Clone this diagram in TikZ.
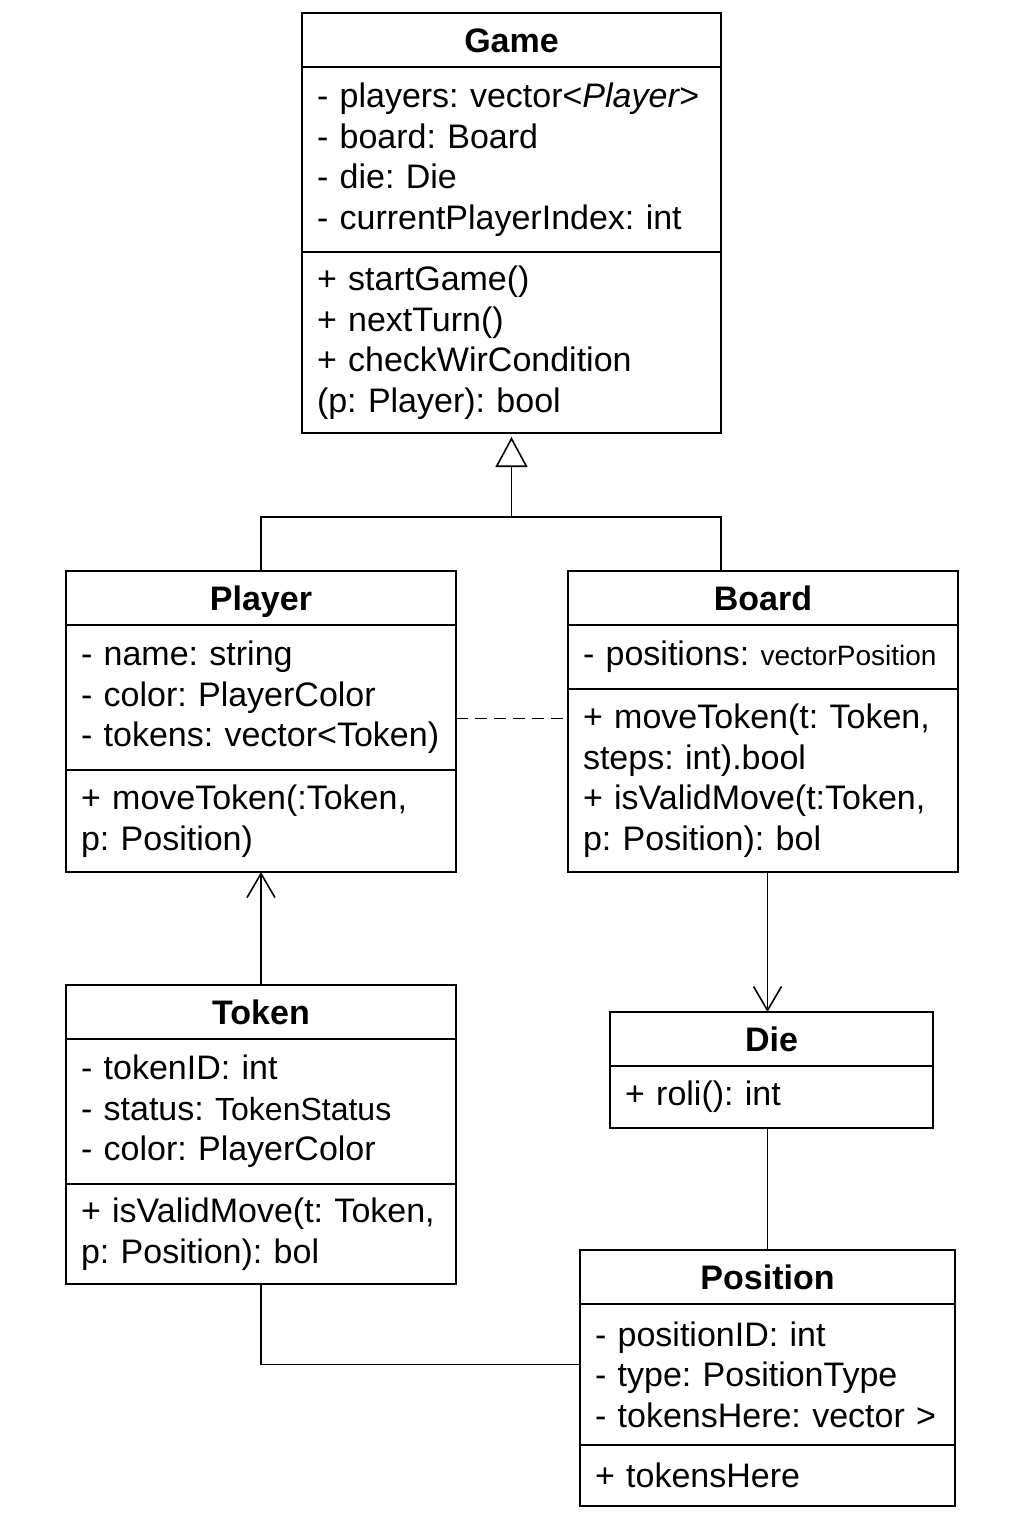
\documentclass[tikz,border=0pt]{standalone}
\usepackage{fontspec}
\setmainfont{Liberation Sans}
\usetikzlibrary{arrows.meta, positioning}
\frenchspacing
\hyphenpenalty=10000

\tikzset{
  umlbox/.style={draw, line width=1.6pt, inner xsep=15pt, inner ysep=0pt, outer sep=0pt, text width=#1},
  umltitle/.style={umlbox=#1, minimum height=54pt, align=center, anchor=north west,
    text height=26pt, text depth=1pt, font=\fontsize{34}{40.5}\selectfont\bfseries},
  umlpart/.style={umlbox=#1, align=left, execute at begin node=\vphantom{A},
    font=\fontsize{34}{40.5}\selectfont},
  link/.style={line width=1.6pt},
  openhead/.style={-{Straight Barb[length=24pt, width=28pt]}},
}

\begin{document}
\begin{tikzpicture}[x=1pt, y=-1pt]
  \fill[white] (0,0) rectangle (1024,1536);
  \useasboundingbox (0,0) rectangle (1024,1536);

  % Game
  \node[umltitle=389pt] (game) at (302,13) {Game};
  \node[umlpart=389pt, minimum height=185pt, below=0pt of game] (gameattr)
    {- players: vector<\textit{Player>}\\- board: Board\\- die: Die\\- currentPlayerIndex: int};
  \node[umlpart=389pt, minimum height=181pt, below=0pt of gameattr] (gameops)
    {+ startGame()\\+ nextTurn()\\+ checkWirCondition\\(p: Player): bool};

  % Player
  \node[umltitle=360pt] (player) at (66,571) {Player};
  \node[umlpart=360pt, minimum height=145pt, below=0pt of player] (playerattr)
    {- name: string\\- color: PlayerColor\\- tokens: vector<Token)};
  \node[umlpart=360pt, minimum height=102pt, below=0pt of playerattr] (playerops)
    {+ moveToken(:Token,\\p: Position)};

  % Board
  \node[umltitle=360pt] (board) at (568,571) {Board};
  \node[umlpart=360pt, minimum height=64pt, below=0pt of board] (boardattr)
    {- positions: {\fontsize{28}{40.5}\selectfont vectorPosition}};
  \node[umlpart=360pt, minimum height=183pt, below=0pt of boardattr] (boardops)
    {+ moveToken(t: Token,\\steps: int).bool\\+ isValidMove(t:Token,\\p: Position): bol};

  % Token
  \node[umltitle=360pt] (token) at (66,985) {Token};
  \node[umlpart=360pt, minimum height=145pt, below=0pt of token] (tokenattr)
    {- tokenID: int\\- status: {\fontsize{32}{40.5}\selectfont TokenStatus}\\- color: PlayerColor};
  \node[umlpart=360pt, minimum height=100pt, below=0pt of tokenattr] (tokenops)
    {+ isValidMove(t: Token,\\p: Position): bol};

  % Die
  \node[umltitle=293pt] (die) at (610,1012) {Die};
  \node[umlpart=293pt, minimum height=62pt, below=0pt of die] (dieops) {+ roli(): int};

  % Position
  \node[umltitle=345pt] (position) at (580,1250) {Position};
  \node[umlpart=345pt, minimum height=141pt, below=0pt of position] (posattr)
    {- positionID: int\\- type: PositionType\\- tokensHere: vector >};
  \node[umlpart=345pt, minimum height=61pt, below=0pt of posattr] (posops) {+ tokensHere};

  % connectors
  \coordinate (fork) at (gameops.south |- 0,517);
  \draw[link, -{Triangle[open, length=30pt, width=32pt]}] (fork) -- ([yshift=-4pt]gameops.south);
  \draw[link] (player.north) |- (fork) -| (gameops.south east |- board.north);
  \coordinate (dashL) at ([yshift=-21pt]playerattr.east);
  \draw[link, dash pattern=on 12pt off 7pt] (dashL) -- (dashL -| boardops.west);
  \draw[link, openhead] (token.north) -- (playerops.south);
  \draw[link, openhead] (boardops.south -| position.north) -- (die.north -| position.north);
  \draw[link] (dieops.south -| position.north) -- (position.north);
  \draw[link] (tokenops.south) |- ([yshift=10pt]posattr.west);
\end{tikzpicture}
\end{document}
